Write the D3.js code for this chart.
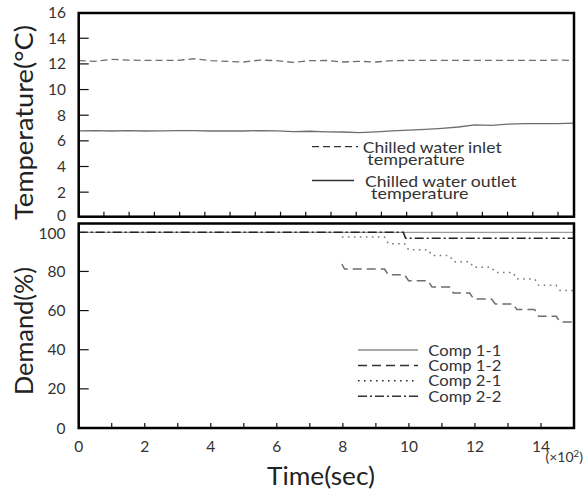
<!DOCTYPE html>
<html>
<head>
<meta charset="utf-8">
<script src="https://cdn.jsdelivr.net/npm/d3@7/dist/d3.min.js"></script>
<style>
  html, body { margin: 0; padding: 0; background: #fff; }
  svg { display: block; font-family: Lato, "Open Sans", sans-serif; }
</style>
</head>
<body>
<svg id="chart" width="588" height="495"></svg>
<script>
// ---- data ----------------------------------------------------------------
// time axis in units of 100 s
const timeTicks = [0, 2, 4, 6, 8, 10, 12, 14];
const timeMinorTicks = [1, 2, 3, 4, 5, 6, 7, 8, 9, 10, 11, 12, 13, 14];
const tempTickStep = 0.764;              // spacing of the upper panel's minor ticks
const tempTicks = [0, 2, 4, 6, 8, 10, 12, 14, 16];
const demandTicks = [0, 20, 40, 60, 80, 100];

// chilled water temperatures, sampled every 50 s
const tempTimes = [0, 0.5, 1, 1.5, 2, 2.5, 3, 3.5, 4, 4.5, 5, 5.5, 6, 6.5, 7, 7.5,
                   8, 8.5, 9, 9.5, 10, 10.5, 11, 11.5, 12, 12.5, 13, 13.5, 14, 14.5, 15];
const inletTemp = [12.25, 12.2, 12.35, 12.3, 12.27, 12.27, 12.27, 12.4, 12.25, 12.2,
                   12.15, 12.3, 12.25, 12.12, 12.25, 12.27, 12.15, 12.2, 12.15, 12.25,
                   12.27, 12.27, 12.27, 12.27, 12.27, 12.27, 12.27, 12.27, 12.27, 12.3, 12.27];
const outletTemp = [6.77, 6.8, 6.77, 6.8, 6.77, 6.78, 6.8, 6.8, 6.77, 6.77,
                    6.77, 6.8, 6.77, 6.72, 6.75, 6.7, 6.69, 6.64, 6.7, 6.77,
                    6.83, 6.9, 6.98, 7.08, 7.25, 7.2, 7.3, 7.34, 7.34, 7.34, 7.38];

// compressor demand (%)
const comp11Times = [0, 15];
const comp11Demand = [100, 100];
const comp22Times = [0, 9.83, 9.9, 15];
const comp22Demand = [100, 100, 97, 97];
// staged unloading of compressors 1-2 and 2-1: times at which each step starts
const stepTimes = [7.97, 9.28, 9.89, 10.6, 11.25, 11.86, 12.52, 13.17, 13.83, 14.48, 15];
const comp12Start = 83.8;
const comp12Levels = [81.2, 78.3, 75.3, 72.0, 69.0, 65.9, 63.4, 60.5, 57.1, 54.2];
const comp21Start = 97.6;
const comp21Levels = [97.6, 94.2, 91.1, 88.1, 85.0, 82.1, 79.5, 76.1, 72.9, 70.3];

const tempLegend = [
  { lines: ["Chilled water inlet", "temperature"], key: "inlet" },
  { lines: ["Chilled water outlet", "temperature"], key: "outlet" }
];
const demandLegend = ["Comp 1-1", "Comp 1-2", "Comp 2-1", "Comp 2-2"];

// ---- styles ---------------------------------------------------------------
const styles = {
  inlet:  { stroke: "#6e6e6e", width: 1.3, dash: "7,4" },
  outlet: { stroke: "#6e6e6e", width: 1.3, dash: null },
  "Comp 1-1": { stroke: "#9a9a9a", width: 1.2, dash: null },
  "Comp 1-2": { stroke: "#6e6e6e", width: 1.5, dash: "9,5" },
  "Comp 2-1": { stroke: "#7a7a7a", width: 1.5, dash: "1.6,4.4" },
  "Comp 2-2": { stroke: "#222",    width: 1.6, dash: "9,3,2,3" }
};

// ---- layout ---------------------------------------------------------------
const svg = d3.select("#chart");
const X0 = 78.7, X1 = 574;
const top1 = 13, bot1 = 216.7;     // upper panel frame
const top2 = 223.5, bot2 = 428;    // lower panel frame

const x = d3.scaleLinear().domain([0, 15]).range([X0, X1]);
const yT = d3.scaleLinear().domain([0, 16]).range([217.8, 12.6]);
const yD = d3.scaleLinear().domain([0, 104.5]).range([bot2, top2]);

function zip(ts, vs) { return ts.map((t, i) => ({ t, v: vs[i] })); }

// staircase: a short slanted drop at every step time, flat in between
function stairs(start, levels, times) {
  const pts = [{ t: times[0], v: start }];
  levels.forEach((lv, i) => {
    pts.push({ t: times[i] + (i === 0 ? 0.08 : 0.1), v: lv });
    pts.push({ t: times[i + 1] - (i + 1 < levels.length ? 0.02 : 0), v: lv });
  });
  return pts;
}

function applyStyle(sel, s) {
  sel.attr("fill", "none")
     .attr("stroke", s.stroke)
     .attr("stroke-width", s.width)
     .attr("stroke-dasharray", s.dash);
  return sel;
}

// ---- upper panel: temperatures -------------------------------------------
const lineT = d3.line().x(d => x(d.t)).y(d => yT(d.v));
applyStyle(svg.append("path").datum(zip(tempTimes, inletTemp)).attr("d", lineT), styles.inlet);
applyStyle(svg.append("path").datum(zip(tempTimes, outletTemp)).attr("d", lineT), styles.outlet);

// inward ticks
const topMinor = d3.range(1, 20).map(k => k * tempTickStep).filter(t => t < 15);
const axisStroke = "#111";
const gT = svg.append("g");
gT.selectAll("line.xt").data(topMinor).join("line")
  .attr("x1", d => x(d)).attr("x2", d => x(d))
  .attr("y1", bot1).attr("y2", bot1 - 5)
  .attr("stroke", axisStroke).attr("stroke-width", 1.2);
gT.selectAll("line.yt").data(tempTicks.slice(1, -1)).join("line")
  .attr("x1", X0).attr("x2", X0 + 10)
  .attr("y1", d => yT(d)).attr("y2", d => yT(d))
  .attr("stroke", axisStroke).attr("stroke-width", 1.2);
gT.selectAll("text").data(tempTicks).join("text")
  .attr("x", 66).attr("y", d => yT(d)).attr("dy", d => d === 0 ? "0.2em" : "0.36em")
  .attr("text-anchor", "end").attr("font-size", 15.5).attr("fill", "#333")
  .text(d => d);

svg.append("rect").attr("x", X0).attr("y", top1)
  .attr("width", X1 - X0).attr("height", bot1 - top1)
  .attr("fill", "none").attr("stroke", "#000").attr("stroke-width", 2.5);

// legend
const legT = svg.append("g");
const legTY = [146.7, 180.5];
tempLegend.forEach((item, i) => {
  const yy = legTY[i];
  applyStyle(legT.append("line")
    .attr("x1", 312).attr("x2", i === 0 ? 358 : 354)
    .attr("y1", yy).attr("y2", yy), Object.assign({}, styles[item.key], { stroke: "#333" }));
  legT.append("text").attr("x", i === 0 ? 362.7 : 365).attr("y", yy + 6.3)
    .attr("font-size", 15).attr("fill", "#333")
    .attr("textLength", i === 0 ? 139 : 151.5).attr("lengthAdjust", "spacingAndGlyphs")
    .text(item.lines[0]);
  legT.append("text").attr("x", i === 0 ? 367.3 : 371).attr("y", yy + 18.6)
    .attr("font-size", 15).attr("fill", "#333")
    .attr("textLength", 97.5).attr("lengthAdjust", "spacingAndGlyphs")
    .text(item.lines[1]);
});

svg.append("text")
  .attr("transform", `translate(33,122.5) rotate(-90)`)
  .attr("text-anchor", "middle").attr("font-size", 25).attr("fill", "#222")
  .attr("textLength", 195).attr("lengthAdjust", "spacingAndGlyphs")
  .text("Temperature(°C)");

// ---- lower panel: compressor demand --------------------------------------
const lineD = d3.line().x(d => x(d.t)).y(d => yD(d.v));
const demandSeries = {
  "Comp 1-1": zip(comp11Times, comp11Demand),
  "Comp 1-2": stairs(comp12Start, comp12Levels, stepTimes),
  "Comp 2-1": stairs(comp21Start, comp21Levels, stepTimes),
  "Comp 2-2": zip(comp22Times, comp22Demand)
};
demandLegend.forEach(name => {
  applyStyle(svg.append("path").datum(demandSeries[name]).attr("d", lineD), styles[name]);
});

const gD = svg.append("g");
gD.selectAll("line.xt").data(timeMinorTicks).join("line")
  .attr("x1", d => x(d)).attr("x2", d => x(d))
  .attr("y1", bot2).attr("y2", bot2 - 5)
  .attr("stroke", axisStroke).attr("stroke-width", 1.2);
gD.selectAll("line.yt").data(demandTicks.slice(1, -1)).join("line")
  .attr("x1", X0).attr("x2", X0 + 10)
  .attr("y1", d => yD(d)).attr("y2", d => yD(d))
  .attr("stroke", axisStroke).attr("stroke-width", 1.2);
gD.selectAll("text.yl").data(demandTicks).join("text")
  .attr("x", 65.5).attr("y", d => yD(d)).attr("dy", d => d === 100 ? "0.42em" : "0.36em")
  .attr("text-anchor", "end").attr("font-size", 15.5).attr("fill", "#333")
  .text(d => d);
gD.selectAll("text.xl").data(timeTicks).join("text")
  .attr("x", d => x(d)).attr("y", 451.7)
  .attr("text-anchor", "middle").attr("font-size", 15.5).attr("fill", "#333")
  .text(d => d);

svg.append("rect").attr("x", X0).attr("y", top2)
  .attr("width", X1 - X0).attr("height", bot2 - top2)
  .attr("fill", "none").attr("stroke", "#000").attr("stroke-width", 2.5);

// legend
const legD = svg.append("g");
demandLegend.forEach((name, i) => {
  const yy = 350 + i * 15.4;
  applyStyle(legD.append("line").attr("x1", 358).attr("x2", 418)
    .attr("y1", yy).attr("y2", yy), Object.assign({}, styles[name], { stroke: name === "Comp 1-1" ? "#555" : "#333" }));
  legD.append("text").attr("x", 428.3).attr("y", yy + 5.5)
    .attr("font-size", 15).attr("fill", "#333")
    .attr("textLength", 73).attr("lengthAdjust", "spacingAndGlyphs")
    .text(name);
});

svg.append("text")
  .attr("transform", `translate(33,331) rotate(-90)`)
  .attr("text-anchor", "middle").attr("font-size", 25).attr("fill", "#222")
  .attr("textLength", 128).attr("lengthAdjust", "spacingAndGlyphs")
  .text("Demand(%)");

// shared time axis title and multiplier
svg.append("text").attr("x", 321).attr("y", 485)
  .attr("text-anchor", "middle").attr("font-size", 25).attr("fill", "#222")
  .attr("textLength", 108).attr("lengthAdjust", "spacingAndGlyphs")
  .text("Time(sec)");
const mult = svg.append("text").attr("x", 545.5).attr("y", 462)
  .attr("font-size", 14).attr("fill", "#333");
mult.append("tspan").text("(×10");
mult.append("tspan").attr("dy", -5.5).attr("font-size", 9.5).text("2");
mult.append("tspan").attr("dy", 5.5).text(")");
</script>
</body>
</html>
